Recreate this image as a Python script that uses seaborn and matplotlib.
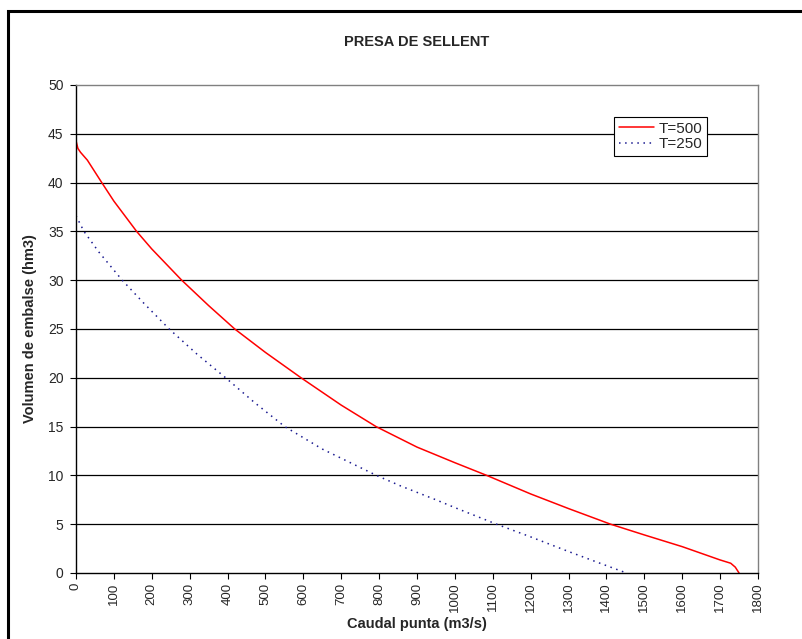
import matplotlib
matplotlib.use("Agg")
import matplotlib.pyplot as plt
from matplotlib.patches import Rectangle
import pandas as pd
import seaborn as sns

# T=500 curve (caudal punta m3/s, volumen hm3)
q_500 = [0, 5, 12, 30, 68, 100, 160, 200, 279, 350, 419, 500, 594, 700, 792,
         900, 1000, 1084, 1200, 1300, 1411, 1500, 1600, 1699, 1728, 1740, 1750]
v_500 = [44.3, 43.5, 43.1, 42.3, 40.0, 38.1, 35.0, 33.2, 30.0, 27.4, 25.0, 22.6, 20.0, 17.2, 15.0,
         12.9, 11.3, 10.0, 8.1, 6.6, 5.0, 3.9, 2.7, 1.35, 1.0, 0.6, 0.0]

# T=250 curve
q_250 = [0, 21, 60, 122, 180, 246, 320, 395, 470, 551, 650, 793, 855, 950,
         1000, 1110, 1200, 1300, 1383, 1453]
v_250 = [36.6, 35.0, 32.9, 30.0, 27.6, 25.0, 22.4, 20.0, 17.5, 15.0, 12.7, 10.0, 8.95, 7.5,
         6.7, 5.0, 3.7, 2.2, 1.0, 0.0]

x_ticks = list(range(0, 1801, 100))
y_ticks = list(range(0, 51, 5))

sns.set_style("white")
plt.rcParams["font.family"] = ["Liberation Sans", "DejaVu Sans"]

df = pd.concat([
    pd.DataFrame({"caudal": q_500, "volumen": v_500, "serie": "T=500"}),
    pd.DataFrame({"caudal": q_250, "volumen": v_250, "serie": "T=250"}),
])

W, H = 803, 639
fig = plt.figure(figsize=(W / 100, H / 100), dpi=100)
ax = fig.add_axes([76 / W, 1 - 573 / H, 682 / W, 488 / H])

sns.lineplot(data=df, x="caudal", y="volumen", hue="serie", style="serie",
             palette={"T=500": "#ff0000", "T=250": "#1a1a90"},
             dashes={"T=500": "", "T=250": (1, 3)},
             sort=False, estimator=None, linewidth=1.1, ax=ax)

ax.set_xlim(0, 1800)
ax.set_ylim(0, 50)
ax.set_xticks(x_ticks)
ax.set_yticks(y_ticks)
ax.set_xticklabels([str(t) for t in x_ticks], rotation=90, fontsize=9.5)
ax.set_yticklabels([str(t) for t in y_ticks], fontsize=10)
ax.tick_params(axis="both", direction="out", length=4, width=0.8, color="black",
               bottom=True, left=True)
ax.tick_params(axis="y", pad=5)
ax.tick_params(axis="x", pad=3)

for y in y_ticks[1:-1]:
    ax.axhline(y, color="black", linewidth=0.9, zorder=0)

for side in ["left", "bottom"]:
    ax.spines[side].set_color("black")
    ax.spines[side].set_linewidth(1.0)
for side in ["top", "right"]:
    ax.spines[side].set_color("#808080")
    ax.spines[side].set_linewidth(1.0)

ax.set_xlabel("Caudal punta (m3/s)", fontsize=10.5, fontweight="bold")
ax.set_ylabel("Volumen de embalse (hm3)", fontsize=10.5, fontweight="bold")
ax.xaxis.set_label_coords(0.5, (573 - 617) / 488)
ax.yaxis.set_label_coords((37 - 76) / 682, 0.5)

leg = ax.legend(loc="upper left", bbox_to_anchor=((614 - 76) / 682, 1 - (117 - 85) / 488),
                fontsize=11, frameon=True, fancybox=False, edgecolor="black",
                framealpha=1, borderpad=0.3, handlelength=2.35, handletextpad=0.3,
                labelspacing=0.1, borderaxespad=0)
leg.get_frame().set_linewidth(0.8)

fig.text(417 / W, 1 - 42 / H, "PRESA DE SELLENT", ha="center", va="center",
         fontsize=10.5, fontweight="bold")

fig.add_artist(Rectangle((8 / W, -0.1), 1.2, 1.1 - 11 / H, transform=fig.transFigure,
                         fill=False, edgecolor="black", linewidth=2.2))

fig.savefig("out.png", dpi=100)
